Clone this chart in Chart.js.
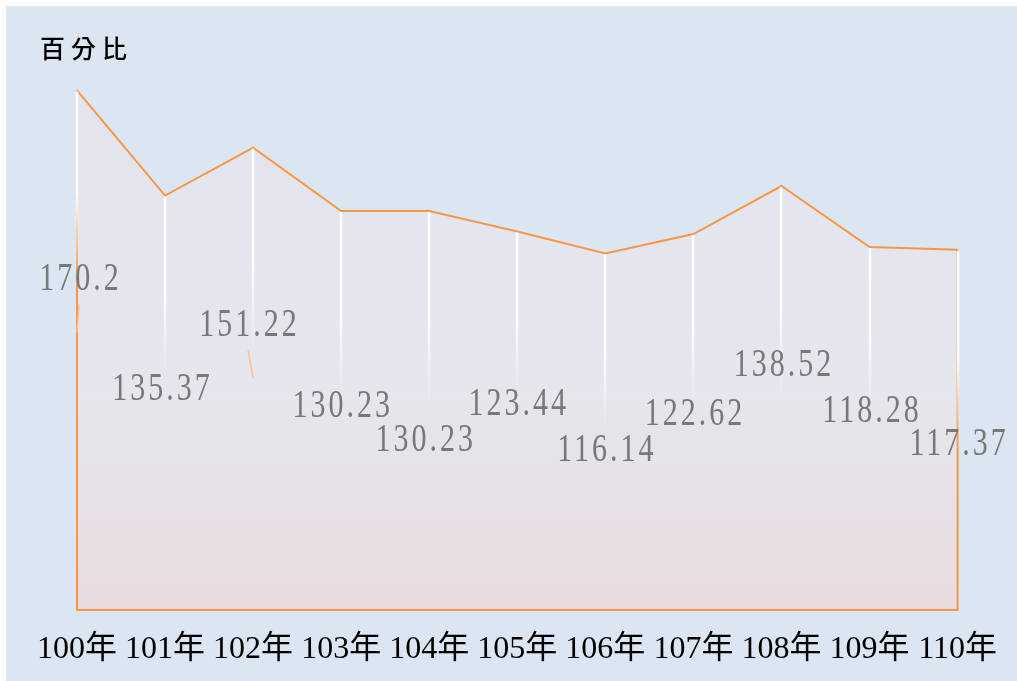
<!DOCTYPE html>
<html>
<head>
<meta charset="utf-8">
<script src="https://cdn.jsdelivr.net/npm/chart.js@4.4.1/dist/chart.umd.min.js"></script>
<style>
  html, body { margin: 0; padding: 0; background: #ffffff; }
  #wrap { position: absolute; left: 6px; top: 6px; width: 1011px; height: 675px; background: #dce6f2; }
</style>
</head>
<body>
<div id="wrap"><canvas id="chart"></canvas></div>
<script>
// Data
var years  = ['100年', '101年', '102年', '103年', '104年', '105年', '106年', '107年', '108年', '109年', '110年'];
var values = [170.2, 135.37, 151.22, 130.23, 130.23, 123.44, 116.14, 122.62, 138.52, 118.28, 117.37];
var valueText = ['170.2', '135.37', '151.22', '130.23', '130.23', '123.44', '116.14', '122.62', '138.52', '118.28', '117.37'];
var yTitle = '百分比';

// Label placement (pixel offsets from each point), drop line lengths, leader lines
var labelDx  = [2, -4, -5, 0, -5, 0, 0, 0, 1, 1, 0];
var labelDy  = [189, 194, 178, 196, 230, 173, 197, 181, 180, 165, 195];
var dropLen  = [190, 177, 207, 188, 195, 160, 175, 170, 213, 162, 200];
var leaders  = [true, false, true, false, false, false, false, false, false, false, false];

var ORANGE = '#f79646';

var dataLabelPlugin = {
    id: 'dataLabels',
    afterDatasetsDraw: function(chart) {
        var ctx = chart.ctx;
        var area = chart.chartArea;
        var pts = chart.getDatasetMeta(0).data;

        // outline of the filled area (sides and bottom)
        ctx.save();
        ctx.strokeStyle = ORANGE;
        ctx.lineWidth = 2;
        ctx.beginPath();
        ctx.moveTo(pts[0].x, pts[0].y);
        ctx.lineTo(pts[0].x, area.bottom);
        ctx.lineTo(pts[pts.length - 1].x, area.bottom);
        ctx.lineTo(pts[pts.length - 1].x, pts[pts.length - 1].y);
        ctx.stroke();
        ctx.restore();

        // white drop lines fading downwards
        pts.forEach(function(p, i) {
            var x = Math.round(p.x);
            var y2 = p.y + dropLen[i];
            var g = ctx.createLinearGradient(0, p.y, 0, y2);
            g.addColorStop(0, 'rgba(255,255,255,1)');
            g.addColorStop(0.55, 'rgba(255,255,255,0.95)');
            g.addColorStop(1, 'rgba(255,255,255,0)');
            ctx.save();
            ctx.strokeStyle = g;
            ctx.lineWidth = 2.5;
            ctx.beginPath();
            ctx.moveTo(x, p.y + 1);
            ctx.lineTo(x, y2);
            ctx.stroke();
            ctx.restore();
        });

        // value labels
        pts.forEach(function(p, i) {
            var lx = p.x + labelDx[i];
            var ly = p.y + labelDy[i];
            if (leaders[i]) {
                ctx.save();
                ctx.strokeStyle = '#fbc08f';
                ctx.lineWidth = 1.5;
                ctx.beginPath();
                ctx.moveTo(lx, ly + 25);
                ctx.lineTo(p.x, ly + 53);
                ctx.stroke();
                ctx.restore();
            }
            ctx.save();
            ctx.translate(lx, ly);
            ctx.scale(1, 1.3);
            ctx.font = '30px "Liberation Serif", "DejaVu Serif", serif';
            ctx.letterSpacing = '3px';
            ctx.fillStyle = '#787878';
            ctx.textAlign = 'center';
            ctx.textBaseline = 'middle';
            ctx.fillText(valueText[i], 1.5, 0);
            ctx.restore();
        });

        // axis title at top left
        ctx.save();
        ctx.font = '500 25px "Noto Sans CJK TC", "Noto Sans CJK SC", sans-serif';
        ctx.letterSpacing = '6px';
        ctx.fillStyle = '#000000';
        ctx.textAlign = 'left';
        ctx.textBaseline = 'middle';
        ctx.fillText(yTitle, 34, 42);
        ctx.restore();
    }
};

var ctx = document.getElementById('chart');
var chart = new Chart(ctx, {
    type: 'line',
    data: {
        labels: years,
        datasets: [{
            data: values,
            borderColor: ORANGE,
            borderWidth: 2,
            pointRadius: 0,
            tension: 0,
            fill: 'start',
            backgroundColor: function(context) {
                var area = context.chart.chartArea;
                if (!area) return '#e4e5ee';
                var g = context.chart.ctx.createLinearGradient(0, area.top, 0, area.bottom);
                g.addColorStop(0, '#e2e4ee');
                g.addColorStop(0.6, '#e6e6ed');
                g.addColorStop(1, '#e8dbe0');
                return g;
            }
        }]
    },
    options: {
        responsive: true,
        maintainAspectRatio: false,
        animation: false,
        layout: {
            padding: { left: 71, right: 59, top: 73, bottom: 0 }
        },
        plugins: {
            legend: { display: false },
            tooltip: { enabled: false }
        },
        scales: {
            x: {
                offset: false,
                grid: { display: false, drawTicks: false },
                border: { display: false },
                afterFit: function(scale) { scale.height = 71; },
                ticks: {
                    color: '#000000',
                    padding: 20,
                    autoSkip: false,
                    maxRotation: 0,
                    font: { family: '"Liberation Serif", "Noto Sans CJK TC", serif', size: 32 }
                }
            },
            y: {
                display: false,
                min: -2,
                max: 174
            }
        }
    },
    plugins: [dataLabelPlugin]
});
</script>
</body>
</html>
